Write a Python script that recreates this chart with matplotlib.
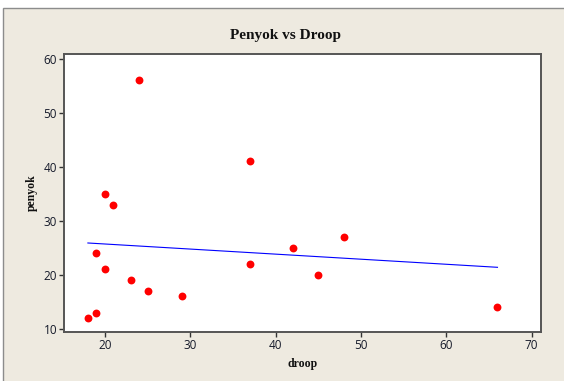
import numpy as np
import matplotlib
matplotlib.use("Agg")
import matplotlib.pyplot as plt
from matplotlib.patches import Rectangle

droop = [18, 19, 19, 20, 20, 21, 23, 24, 25, 29, 37, 37, 42, 45, 48, 66]
penyok = [12, 13, 24, 21, 35, 33, 19, 56, 17, 16, 41, 22, 25, 20, 27, 14]
xticks = [20, 30, 40, 50, 60, 70]
yticks = [10, 20, 30, 40, 50, 60]

W, H = 564, 381
fig = plt.figure(figsize=(W / 100, H / 100), dpi=100)
fig.patch.set_facecolor("white")
fig.patches.append(Rectangle((3 / W, -0.1), 1.2, 1.1 - 8 / H, transform=fig.transFigure,
                             facecolor="#EEEAE0", edgecolor="#8C8C8C", linewidth=1.0, zorder=-5))

ax = fig.add_axes([64 / W, 1 - 332 / H, (541 - 64) / W, (332 - 54) / H])
ax.set_zorder(2)
ax.set_facecolor("white")

ax.scatter(droop, penyok, s=32, color="#FF0000", zorder=3, linewidths=0)
coef = np.polyfit(droop, penyok, 1)
xs = np.array([min(droop), max(droop)])
ax.plot(xs, np.polyval(coef, xs), color="#0000FF", linewidth=0.8, zorder=2)

ax.set_xlim(15.2, 71.1)
ax.set_ylim(9.4, 60.9)
ax.set_xticks(xticks)
ax.set_yticks(yticks)
for s in ax.spines.values():
    s.set_color("#555555")
    s.set_linewidth(1.4)
ax.tick_params(direction="out", length=3.5, width=1, color="#333333",
               labelsize=8.5, labelcolor="#151a2a", pad=1.5)
for lab in ax.get_xticklabels() + ax.get_yticklabels():
    lab.set_fontfamily("Open Sans")

fig.text(285 / W, 1 - 35 / H, "Penyok vs Droop", fontfamily="Liberation Serif",
         fontweight="bold", fontsize=11, ha="center", va="center", color="#111111")
ax.set_xlabel("droop", fontfamily="Liberation Serif", fontweight="bold", fontsize=8.5,
              labelpad=4, color="#111111")
ax.set_ylabel("penyok", fontfamily="Liberation Serif", fontweight="bold", fontsize=8.5,
              labelpad=4, color="#111111")

fig.savefig("out.png", dpi=100, facecolor=fig.get_facecolor())
